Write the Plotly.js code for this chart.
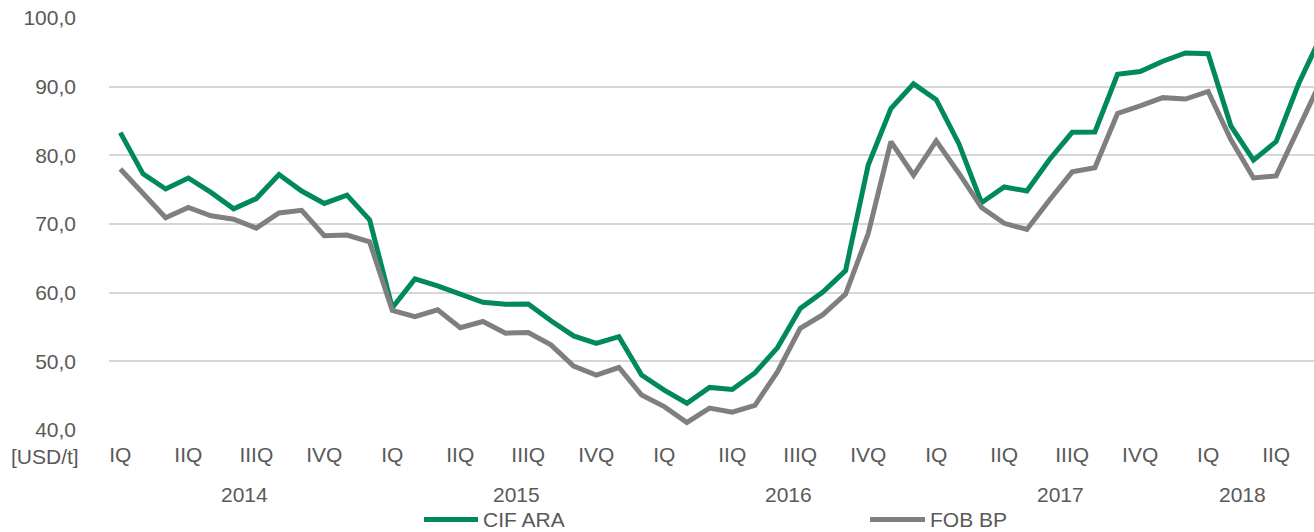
<!DOCTYPE html>
<html>
<head>
<meta charset="utf-8">
<script src="https://cdn.plot.ly/plotly-3.0.1.min.js"></script>
<style>html,body{margin:0;padding:0;background:#fff;}#chart{width:1314px;height:532px;}</style>
</head>
<body>
<div id="chart"></div>
<script>
// Monthly categories, Jan 2014 – Jun 2018
var months = [
  '2014-01','2014-02','2014-03','2014-04','2014-05','2014-06','2014-07','2014-08','2014-09','2014-10','2014-11','2014-12',
  '2015-01','2015-02','2015-03','2015-04','2015-05','2015-06','2015-07','2015-08','2015-09','2015-10','2015-11','2015-12',
  '2016-01','2016-02','2016-03','2016-04','2016-05','2016-06','2016-07','2016-08','2016-09','2016-10','2016-11','2016-12',
  '2017-01','2017-02','2017-03','2017-04','2017-05','2017-06','2017-07','2017-08','2017-09','2017-10','2017-11','2017-12',
  '2018-01','2018-02','2018-03','2018-04','2018-05','2018-06'
];
var cifARA = [
  83.3,77.3,75.1,76.7,74.6,72.2,73.7,77.2,74.8,73.0,74.2,70.6,
  57.8,62.0,61.0,59.8,58.6,58.3,58.35,55.9,53.7,52.6,53.6,48.0,
  45.8,43.9,46.2,45.9,48.3,52.0,57.7,60.1,63.2,78.6,86.8,90.4,
  88.1,81.7,73.1,75.4,74.8,79.4,83.35,83.4,91.8,92.2,93.7,94.9,
  94.8,84.3,79.3,82.0,90.5,97.5
];
var fobBP = [
  78.0,74.5,70.9,72.4,71.2,70.7,69.4,71.6,72.0,68.3,68.4,67.4,
  57.4,56.5,57.5,54.9,55.8,54.1,54.2,52.4,49.3,48.0,49.1,45.1,
  43.4,41.1,43.2,42.6,43.6,48.5,54.8,56.8,59.8,68.6,82.0,77.1,
  82.1,77.4,72.4,70.1,69.2,73.5,77.6,78.2,86.1,87.2,88.4,88.2,
  89.3,82.3,76.7,77.0,83.9,91.0
];
var quarterTicks = [
  '2014-01','2014-04','2014-07','2014-10',
  '2015-01','2015-04','2015-07','2015-10',
  '2016-01','2016-04','2016-07','2016-10',
  '2017-01','2017-04','2017-07','2017-10',
  '2018-01','2018-04'
];
var quarterText = [
  'IQ','IIQ','IIIQ','IVQ',
  'IQ','IIQ','IIIQ','IVQ',
  'IQ','IIQ','IIIQ','IVQ',
  'IQ','IIQ','IIIQ','IVQ',
  'IQ','IIQ'
];
var years = ['2014','2015','2016','2017','2018'];
var seriesNames = ['CIF ARA','FOB BP'];
var unitLabel = '[USD/t]';

// layout-only settings
var yearPos = [5.5, 17.5, 29.5, 41.5, 49.5];
var green = '#00895B', grey = '#7F7F7F', txt = '#595959';
var FONT = 'Liberation Sans, Arial, sans-serif';
var FS = 21;

var traces = [
  {x: months, y: cifARA, name: seriesNames[0], type: 'scatter', mode: 'lines',
   line: {color: green, width: 5}, showlegend: false, hoverinfo: 'skip'},
  {x: months, y: fobBP, name: seriesNames[1], type: 'scatter', mode: 'lines',
   line: {color: grey, width: 5}, showlegend: false, hoverinfo: 'skip'}
];

var W = 1314, ml = 109, mr = 0, mt = 18, mb = 102;
var pw = W - ml - mr, ph = 532 - mt - mb;
function px2paperX(p){ return (p - ml) / pw; }
function px2paperY(p){ return (532 - mb - p) / ph; }

var annotations = [];
for (var k = 0; k < years.length; k++) {
  annotations.push({x: yearPos[k], xref: 'x', y: px2paperY(494.5), yref: 'paper',
    text: years[k], showarrow: false, xanchor: 'center', yanchor: 'middle',
    font: {family: FONT, size: FS, color: txt}});
}
annotations.push({x: px2paperX(81), xref: 'paper', y: px2paperY(456), yref: 'paper',
  text: unitLabel, showarrow: false, xanchor: 'right', yanchor: 'middle',
  font: {family: FONT, size: FS, color: txt}});

// legend (manual)
var legY = 519.5;
var legItems = [
  {x0: 424, x1: 478, tx: 482, color: green, name: seriesNames[0]},
  {x0: 870, x1: 925, tx: 929, color: grey, name: seriesNames[1]}
];
var shapes = [];
legItems.forEach(function(it){
  shapes.push({type: 'line', xref: 'paper', yref: 'paper',
    x0: px2paperX(it.x0), x1: px2paperX(it.x1), y0: px2paperY(legY), y1: px2paperY(legY),
    line: {color: it.color, width: 5}});
  annotations.push({x: px2paperX(it.tx), xref: 'paper', y: px2paperY(legY - 0.5), yref: 'paper',
    text: it.name, showarrow: false, xanchor: 'left', yanchor: 'middle',
    height: 19, valign: 'middle', borderpad: 0,
    font: {family: FONT, size: FS, color: txt}});
});

var layout = {
  width: W, height: 532,
  margin: {l: ml, r: mr, t: mt, b: mb, pad: 0},
  paper_bgcolor: '#fff', plot_bgcolor: '#fff',
  separators: ', ',
  font: {family: FONT, size: FS, color: txt},
  xaxis: {
    type: 'category', range: [-0.5, 52.67], tickmode: 'array',
    tickvals: quarterTicks, ticktext: quarterText,
    showgrid: false, zeroline: false, showline: false, ticks: '',
    ticklabelstandoff: 10,
    tickfont: {family: FONT, size: FS, color: txt}
  },
  yaxis: {
    range: [40, 100], tickmode: 'linear', tick0: 40, dtick: 10, tickformat: '.1f',
    showgrid: true, gridcolor: '#D6D6D6', gridwidth: 1.7,
    zeroline: false, showline: false, ticks: '',
    ticklabelstandoff: 32,
    tickfont: {family: FONT, size: FS, color: txt}
  },
  showlegend: false,
  annotations: annotations,
  shapes: shapes
};

Plotly.newPlot('chart', traces, layout, {displayModeBar: false, staticPlot: true});
</script>
</body>
</html>
